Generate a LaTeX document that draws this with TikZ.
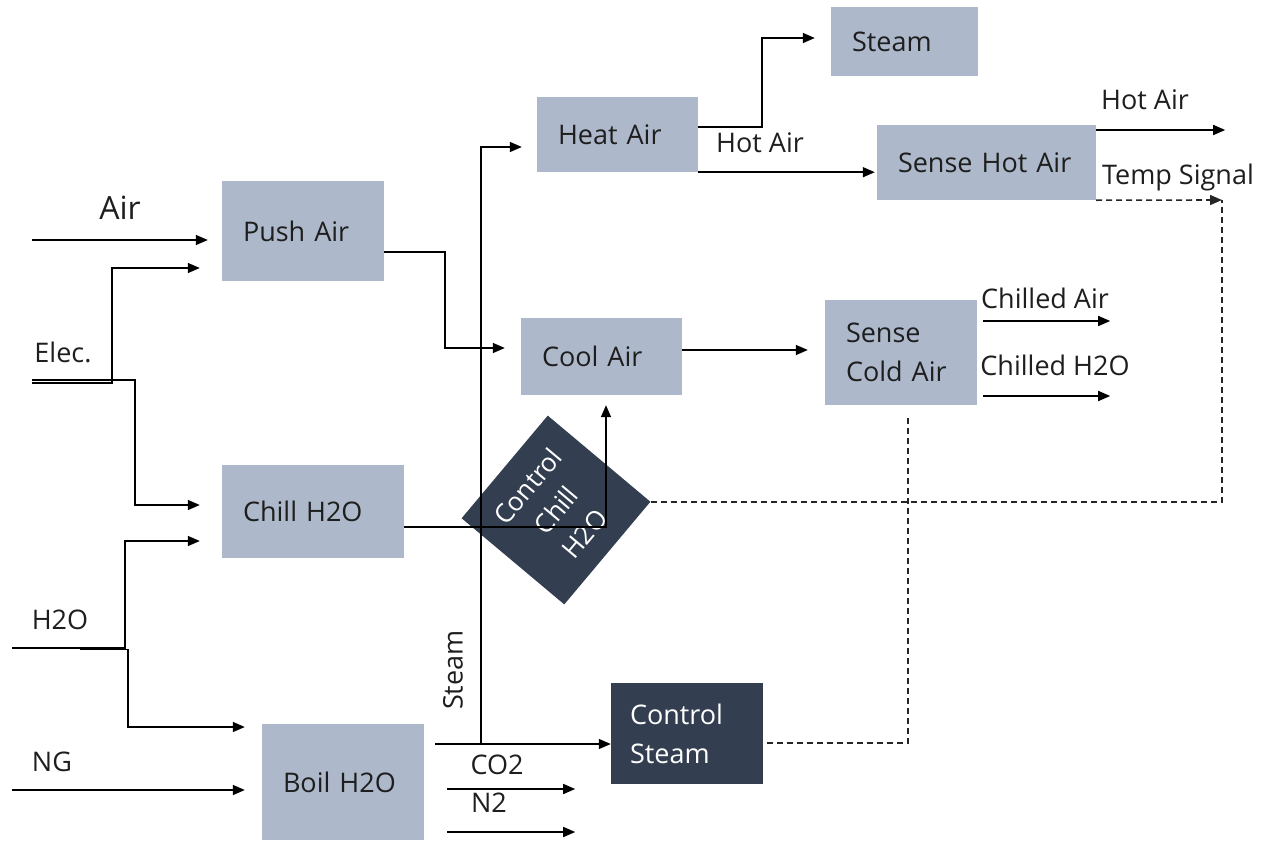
\documentclass[tikz,border=0pt]{standalone}
\usepackage{fontspec}
\setmainfont{Open Sans}
\usetikzlibrary{arrows.meta}
\definecolor{boxgray}{HTML}{ADB9CA}
\definecolor{ctrldark}{HTML}{333F50}
\definecolor{inkgray}{HTML}{1E1E1E}

\begin{document}
\begin{tikzpicture}[x=1pt, y=-1pt, font=\fontsize{27}{39}\selectfont,
  proc/.style={fill=boxgray, text=inkgray, inner xsep=21pt, inner ysep=0pt, align=left},
  ctrl/.style={fill=ctrldark, text=white, inner xsep=19pt, inner ysep=0pt, align=left},
  flow/.style={line width=1.5pt, -{Triangle[length=12pt, width=10pt]}},
  wire/.style={line width=1.5pt},
  sig/.style={line width=1.6pt, dash pattern=on 6pt off 4pt, black!85},
  lbl/.style={inner sep=0pt, text=inkgray}]
  \useasboundingbox (0,0) rectangle (1263,843);
  % process boxes
  \node[proc, text width=105pt, minimum height=69pt] (steambox) at (904.5,41.5) {Steam};
  \node[proc, text width=119pt, minimum height=75pt] (heat) at (617.5,134.5) {Heat Air};
  \node[proc, text width=177pt, minimum height=75pt] (sensehot) at (986.5,162.5) {Sense Hot Air};
  \node[proc, text width=120pt, minimum height=100pt] (push) at (303,231) {Push Air};
  \node[proc, text width=119pt, minimum height=77pt] (cool) at (601.5,356.5) {Cool Air};
  \node[proc, text width=110pt, minimum height=105pt] (sensecold) at (901,352.5) {Sense\\Cold Air};
  \node[proc, text width=140pt, minimum height=93pt] (chill) at (313,511.5) {Chill H2O};
  \node[proc, text width=120pt, minimum height=116pt] (boil) at (343,782) {Boil H2O};
  \node[ctrl, text width=114pt, minimum height=101pt] (ctrlsteam) at (687,733.5) {Control\\Steam};
  \node[ctrl, rotate=50, minimum width=134pt, minimum height=134pt, inner sep=0pt,
    align=center, font=\fontsize{26}{37}\selectfont] (ctrlchill) at (556,510) {Control\\Chill\\H2O};
  % inputs
  \coordinate (airin) at (32,240);
  \coordinate (elec) at (32,381.5);
  \coordinate (water) at (12,648);
  \coordinate (ng) at (12,790);
  \draw[flow, shorten >=14pt] (airin) -- (airin -| push.west);
  \draw[flow, shorten >=22pt] ([yshift=-1.5pt]elec) -- ++(80,0) |- ([yshift=-37pt]push.west);
  \draw[flow, shorten >=22pt] ([yshift=1.5pt]elec) -- ++(103,0) |- ([yshift=6.5pt]chill.west);
  \draw[flow, shorten >=22pt] (water) -- ++(113,0) |- ([yshift=-29.5pt]chill.west);
  \draw[flow, shorten >=17pt] ([xshift=68pt,yshift=-1.5pt]water) -- ++(48,0) |- ([yshift=55pt]boil.west);
  \draw[flow, shorten >=17pt] (ng) -- (ng -| boil.west);
  % steam from the boiler
  \coordinate (steamsplit) at (481,744);
  \draw[wire] ([xshift=11pt,yshift=38pt]boil.east) -- (steamsplit);
  \draw[flow] (steamsplit) -- (steamsplit -| ctrlsteam.west);
  \draw[flow, shorten >=15pt] (steamsplit) |- ([yshift=-12.5pt]heat.west);
  \draw[flow] ([xshift=23pt,yshift=-7pt]boil.east) -- ++(128,0);
  \draw[flow] ([xshift=23pt,yshift=-50pt]boil.east) -- ++(128,0);
  % air and water paths
  \coordinate (coolout) at ([yshift=6.5pt]cool.east);
  \draw[flow, shorten >=16pt] ([yshift=-21pt]push.east) -- ++(61,0) |- ([yshift=8.5pt]cool.west);
  \draw[flow, shorten >=10pt] ([yshift=-15.5pt]chill.east) -| ([xshift=4.5pt]cool.south);
  \draw[flow, shorten >=16pt] ([yshift=7.5pt]heat.east) -- ++(64,0) |- ([yshift=3.5pt]steambox.west);
  \draw[flow, shorten >=2pt] (heat.south east) -- (heat.south east -| sensehot.west);
  \draw[flow, shorten >=17pt] (coolout) -- (coolout -| sensecold.west);
  \draw[flow] ([yshift=32.5pt]sensehot.east) -- ++(129,0);
  \draw[flow] ([xshift=6pt,yshift=31.5pt]sensecold.east) -- ++(127,0);
  \draw[flow] ([xshift=6pt,yshift=-43.5pt]sensecold.east) -- ++(127,0);
  % control signals
  \coordinate (tempcorner) at (1222,200);
  \draw[sig, -{Triangle[length=12pt, width=10pt]}] (sensehot.south east) -- (tempcorner);
  \draw[sig] (ctrlchill.south east) -| (tempcorner);
  \draw[sig] ([xshift=7pt,yshift=-13pt]sensecold.south) |- ([yshift=-9.5pt]ctrlsteam.east);
  % labels
  \node[lbl, font=\fontsize{32}{38}\selectfont] (airlbl) at (120,208) {Air};
  \node[lbl] (eleclbl) at (63,352) {Elec.};
  \node[lbl] (waterlbl) at (60,620) {H2O};
  \node[lbl] (nglbl) at (52,762) {NG};
  \node[lbl, rotate=90] (steamlbl) at (453,670) {Steam};
  \node[lbl] (co2lbl) at (497,765) {CO2};
  \node[lbl] (n2lbl) at (489,803) {N2};
  \node[lbl] (hotlbl) at (760,143) {Hot Air};
  \node[lbl] (hotoutlbl) at (1145,100) {Hot Air};
  \node[lbl] (templbl) at (1178,177) {Temp Signal};
  \node[lbl] (chairlbl) at (1045,298) {Chilled Air};
  \node[lbl] (chwaterlbl) at (1055,365) {Chilled H2O};
\end{tikzpicture}
\end{document}
